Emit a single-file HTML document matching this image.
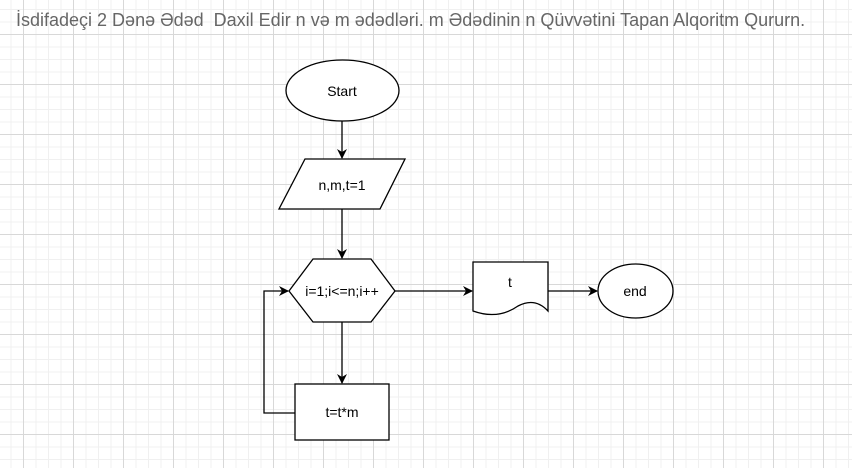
<!DOCTYPE html>
<html><head><style>
body{margin:0;width:852px;height:468px;overflow:hidden;background:#fff;
background-image:
linear-gradient(#d8d8d8 1px,transparent 1px),
linear-gradient(90deg,#d8d8d8 1px,transparent 1px),
linear-gradient(#f0f0f0 1px,transparent 1px),
linear-gradient(90deg,#f0f0f0 1px,transparent 1px);
background-size:50px 50px,50px 50px,12.5px 12.5px,12.5px 12.5px;
background-position:0 34px,23px 0,0 34px,23px 0;
font-family:"Liberation Sans",Arial,sans-serif}
.title{position:absolute;left:16px;top:10px;font-size:18px;color:#666;white-space:nowrap}
svg{position:absolute;left:0;top:0}
text{font-family:"Liberation Sans",Arial,sans-serif;font-size:14px;fill:#000}
</style></head><body>
<div class="title">İsdifadeçi 2 Dənə Ədəd&nbsp; Daxil Edir n və m ədədləri. m Ədədinin n Qüvvətini Tapan Alqoritm Qururn.</div>
<svg width="852" height="468">
<defs><marker id="a" markerWidth="10" markerHeight="10" refX="9" refY="5" orient="auto" markerUnits="userSpaceOnUse"><path d="M0,0 L10,5 L0,10 L3,5 Z" fill="#000"/></marker></defs>
<g stroke="#000" stroke-width="1.3" fill="#fff">
<ellipse cx="342.5" cy="90.5" rx="56.5" ry="30.5"/>
<polygon points="305,159 405,159 380,209 279,209"/>
<polygon points="313,259 371,259 395,291 371,322 313,322 289,291"/>
<path d="M473,262 H548 V311 Q535,297 518,306 Q498,320 473,311 Z"/>
<ellipse cx="635.5" cy="291" rx="37.5" ry="27"/>
<rect x="295" y="384" width="94" height="56"/>
</g>
<g stroke="#000" stroke-width="1.3" fill="none">
<line x1="342" y1="121" x2="342" y2="158" marker-end="url(#a)"/>
<line x1="342" y1="209" x2="342" y2="258" marker-end="url(#a)"/>
<line x1="395" y1="291" x2="472" y2="291" marker-end="url(#a)"/>
<line x1="548" y1="291" x2="597" y2="291" marker-end="url(#a)"/>
<line x1="342" y1="322" x2="342" y2="383" marker-end="url(#a)"/>
<polyline points="295,413 264,413 264,291 288,291" marker-end="url(#a)"/>
</g>
<text x="342" y="96" text-anchor="middle">Start</text>
<text x="342" y="190" text-anchor="middle">n,m,t=1</text>
<text x="342" y="296" text-anchor="middle">i=1;i&lt;=n;i++</text>
<text x="510" y="287" text-anchor="middle">t</text>
<text x="635" y="296" text-anchor="middle">end</text>
<text x="342" y="417" text-anchor="middle">t=t*m</text>
</svg>
</body></html>
